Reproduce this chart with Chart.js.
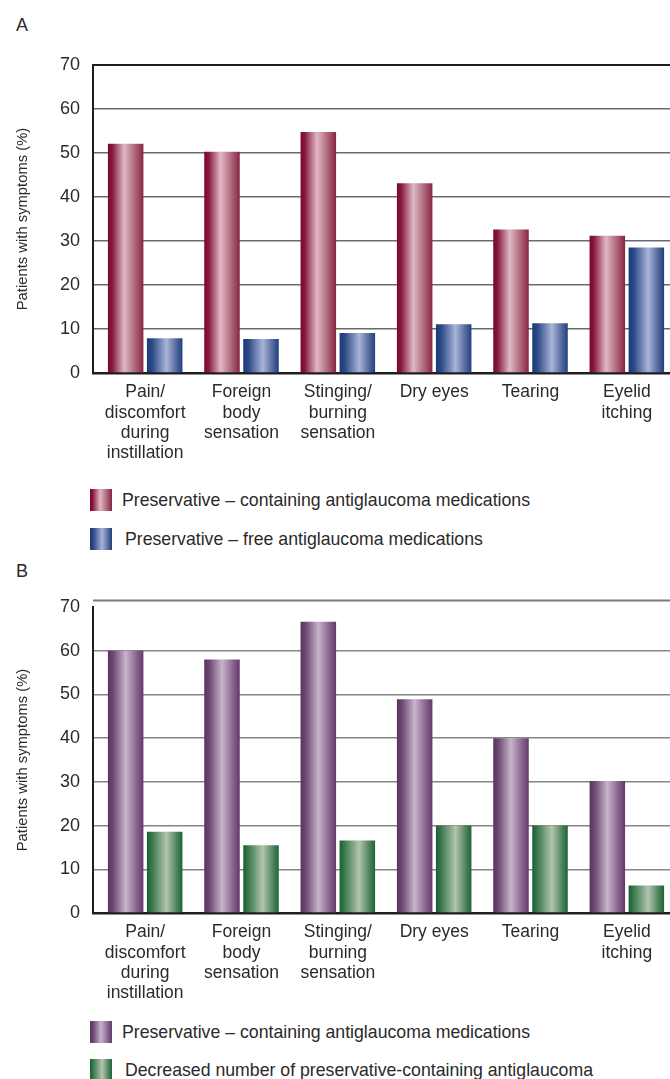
<!DOCTYPE html>
<html><head><meta charset="utf-8">
<script src="https://cdn.jsdelivr.net/npm/chart.js@4"></script>
<style>
html,body{margin:0;padding:0;background:#fff;overflow:hidden;}
#wrap{position:relative;width:670px;height:1079px;font-family:"Liberation Sans",Arial,sans-serif;color:#2a2a2a;overflow:hidden;}
.panel{position:absolute;left:0;width:670px;height:470px;}
.tag{position:absolute;left:16px;font-size:18px;line-height:20px;}
.leg{position:absolute;left:90px;height:22px;display:flex;align-items:center;font-size:17.7px;white-space:nowrap;}
.sw{width:22px;height:22px;flex:none;}
</style></head>
<body>
<div id="wrap">
  <div class="tag" style="top:15px">A</div>
  <canvas id="chartA" class="panel" style="top:0px" width="670" height="470"></canvas>
  <div class="leg" style="top:489px"><div class="sw" id="swA1"></div><span style="margin-left:10px" id="lgA1"></span></div>
  <div class="leg" style="top:528px"><div class="sw" id="swA2"></div><span style="margin-left:13px" id="lgA2"></span></div>
  <div class="tag" style="top:561px">B</div>
  <canvas id="chartB" class="panel" style="top:540px" width="670" height="470"></canvas>
  <div class="leg" style="top:1021px"><div class="sw" id="swB1"></div><span style="margin-left:10px" id="lgB1"></span></div>
  <div class="leg" style="top:1059px"><div class="sw" id="swB2"></div><span style="margin-left:13px" id="lgB2"></span></div>
</div>
<script>
// ---- data ----
const categories = [
  ['Pain/', 'discomfort', 'during', 'instillation'],
  ['Foreign', 'body', 'sensation'],
  ['Stinging/', 'burning', 'sensation'],
  ['Dry eyes'],
  ['Tearing'],
  ['Eyelid', 'itching']
];
const seriesNamesA = ['Preservative \u2013 containing antiglaucoma medications', 'Preservative \u2013 free antiglaucoma medications'];
const seriesNamesB = ['Preservative \u2013 containing antiglaucoma medications', 'Decreased number of preservative-containing antiglaucoma'];
const containingA = [52.1, 50.3, 54.8, 43.1, 32.6, 31.2];
const freeA = [7.9, 7.7, 9.1, 11.1, 11.3, 28.5];
const containingB = [60.0, 58.0, 66.6, 48.9, 40.0, 30.2];
const decreasedB = [18.6, 15.5, 16.6, 20.0, 20.0, 6.3];
const yTicks = [0, 10, 20, 30, 40, 50, 60, 70];
const yAxisTitle = 'Patients with symptoms (%)';

// ---- styles ----
const CAT_PCT = 0.81, BAR_PCT = 0.91;
const TEXT = '#2a2a2a';
const FONT = 'Liberation Sans, Arial, sans-serif';
const redStops = [[0,'#780532'],[0.12,'#86183f'],[0.46,'#e0b9c2'],[0.75,'#b06a80'],[1,'#88253f']];
const blueStops = [[0,'#1b3a77'],[0.15,'#2c4a86'],[0.55,'#a9b4d7'],[0.85,'#4d6499'],[1,'#223f7c']];
const purpleStops = [[0,'#5a325f'],[0.15,'#6e4a74'],[0.5,'#c5b5ca'],[0.8,'#8a6690'],[1,'#65386b']];
const greenStops = [[0,'#195f31'],[0.15,'#3d7a4f'],[0.55,'#b3c4b0'],[0.85,'#4c8158'],[1,'#1d6636']];

function cssGrad(stops){ return 'linear-gradient(to right,' + stops.map(s => s[1] + ' ' + (s[0]*100) + '%').join(',') + ')'; }

function barGradient(stops){
  return (ctx) => {
    const chart = ctx.chart, xs = chart.scales && chart.scales.x;
    if (!xs || ctx.dataIndex === undefined) return stops[2][1];
    const cw = Math.abs(xs.getPixelForValue(1) - xs.getPixelForValue(0));
    const slot = cw * CAT_PCT / 2;
    const c = xs.getPixelForValue(ctx.dataIndex) + (ctx.datasetIndex - 0.5) * slot;
    const half = slot * BAR_PCT / 2;
    if (!isFinite(c) || !isFinite(half)) return stops[2][1];
    const g = chart.ctx.createLinearGradient(c - half, 0, c + half, 0);
    stops.forEach(s => g.addColorStop(s[0], s[1]));
    return g;
  };
}

const topRule = {
  id: 'topRule',
  beforeDatasetsDraw(chart, args, opts) {
    if (!opts || !opts.show) return;
    const c = chart.ctx, a = chart.chartArea;
    c.save();
    c.strokeStyle = opts.color; c.lineWidth = opts.width;
    c.beginPath();
    c.moveTo(a.left, a.top - opts.offset);
    c.lineTo(a.right, a.top - opts.offset);
    c.stroke();
    c.restore();
  }
};

function makeChart(id, d1, d2, names, s1, s2, topPad, gridCol, topCol, rule) {
  const toPts = arr => arr.map((v, i) => ({x: i, y: v}));
  return new Chart(document.getElementById(id), {
    type: 'bar',
    data: {
      datasets: [
        {label: names[0], data: toPts(d1), backgroundColor: barGradient(s1), borderWidth: 0,
         categoryPercentage: CAT_PCT, barPercentage: BAR_PCT},
        {label: names[1], data: toPts(d2), backgroundColor: barGradient(s2), borderWidth: 0,
         categoryPercentage: CAT_PCT, barPercentage: BAR_PCT}
      ]
    },
    plugins: [topRule],
    options: {
      responsive: false, animation: false, devicePixelRatio: 1,
      layout: {padding: {top: topPad, left: 0, right: 0, bottom: 0}},
      plugins: {legend: {display: false}, tooltip: {enabled: false},
        topRule: rule},
      scales: {
        x: {
          type: 'linear', min: -0.5415, max: 5.448, offset: false,
          grid: {display: false, drawTicks: false},
          border: {color: '#1e1e1e', width: 2.5},
          afterBuildTicks: s => { s.ticks = categories.map((_, i) => ({value: i})); },
          ticks: {callback: v => categories[v], autoSkip: false, maxRotation: 0,
            font: {family: FONT, size: 17.5, lineHeight: 1.17}, color: TEXT, padding: 9},
          afterFit: s => { s.height = 97; }
        },
        y: {
          min: 0, max: 70,
          afterBuildTicks: s => { s.ticks = yTicks.map(v => ({value: v})); },
          ticks: {font: {family: FONT, size: 18}, color: TEXT, padding: 13},
          grid: {drawTicks: false, lineWidth: c => (c.tick && c.tick.value === 70) ? 2 : 1.5,
                 color: c => (c.tick && c.tick.value === 70) ? topCol : gridCol},
          border: {color: '#1e1e1e', width: 2},
          title: {display: true, text: yAxisTitle, font: {family: FONT, size: 14.8}, color: TEXT,
                  padding: {top: 14, bottom: 0}},
          afterFit: s => { s.width = 93; }
        }
      }
    }
  });
}

makeChart('chartA', containingA, freeA, seriesNamesA, redStops, blueStops, 65, '#6a6a6a', '#1e1e1e', {show: false});
makeChart('chartB', containingB, decreasedB, seriesNamesB, purpleStops, greenStops, 67, '#858585', 'rgba(0,0,0,0)',
  {show: true, offset: 6.5, color: '#7a7a7a', width: 2});

document.getElementById('swA1').style.background = cssGrad(redStops);
document.getElementById('swA2').style.background = cssGrad(blueStops);
document.getElementById('swB1').style.background = cssGrad(purpleStops);
document.getElementById('swB2').style.background = cssGrad(greenStops);
document.getElementById('lgA1').textContent = seriesNamesA[0];
document.getElementById('lgA2').textContent = seriesNamesA[1];
document.getElementById('lgB1').textContent = seriesNamesB[0];
document.getElementById('lgB2').textContent = seriesNamesB[1];
</script>
</body></html>
